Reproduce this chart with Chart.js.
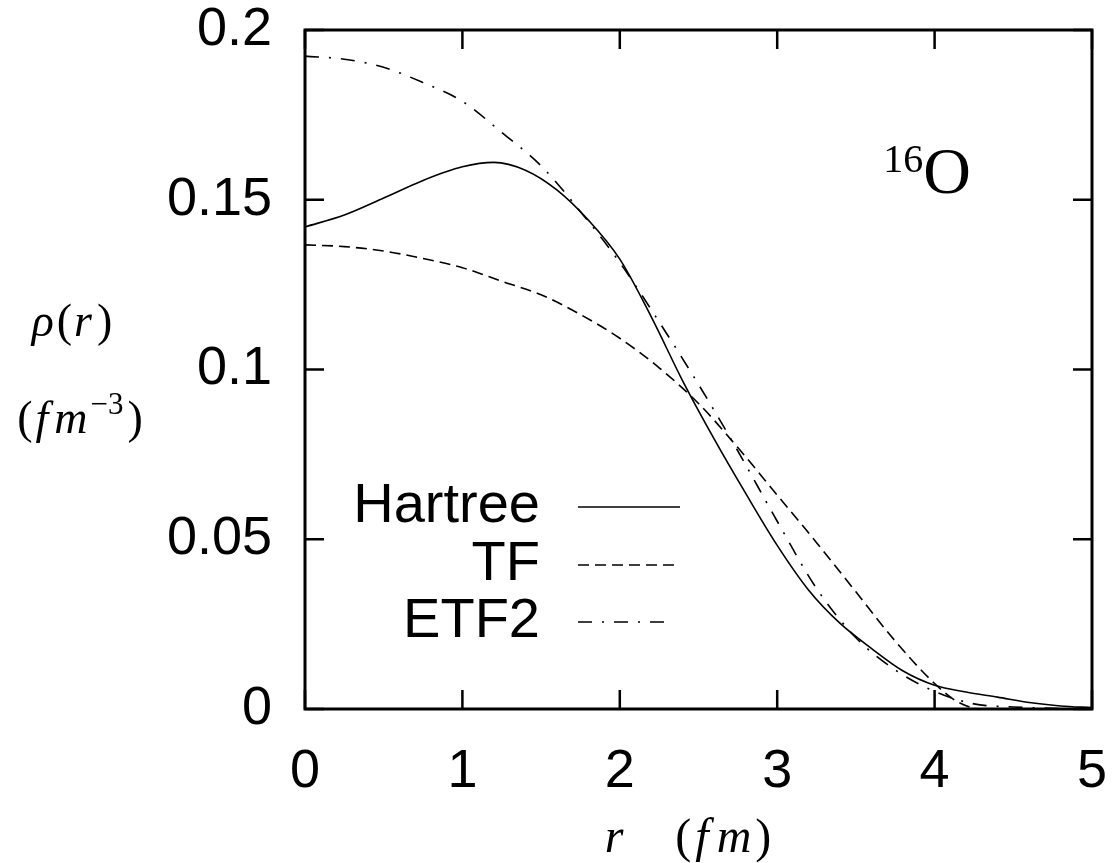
<!DOCTYPE html>
<html>
<head>
<meta charset="utf-8">
<script src="https://cdn.jsdelivr.net/npm/chart.js@4.4.1/dist/chart.umd.min.js"></script>
<style>
  html, body { margin: 0; padding: 0; background: #ffffff; }
  #c { display: block; }
</style>
</head>
<body>
<canvas id="c" width="1114" height="863"></canvas>
<script>
// ---- data ----
const seriesNames = ['Hartree', 'TF', 'ETF2'];

const rHartree = [0, 0.25, 0.5, 0.75, 1.0, 1.2, 1.4, 1.6, 1.8, 2.0, 2.2, 2.4, 2.6, 2.8, 3.0, 3.2, 3.4, 3.6, 3.8, 4.0, 4.2, 4.4, 4.6, 4.8, 5.0];
const rhoHartree = [0.142, 0.1455, 0.1505, 0.1557, 0.1597, 0.161, 0.1587, 0.1529, 0.1440, 0.1325, 0.1155, 0.0966, 0.0795, 0.0635, 0.0482, 0.0350, 0.0252, 0.0178, 0.0112, 0.0070, 0.0050, 0.0035, 0.0019, 0.0009, 0.0004];

const rTF = [0, 0.25, 0.5, 0.75, 1.0, 1.25, 1.5, 1.75, 2.0, 2.25, 2.5, 2.75, 3.0, 3.25, 3.5, 3.75, 4.0, 4.15, 4.3, 4.5, 5.0];
const rhoTF = [0.1367, 0.1362, 0.1349, 0.1327, 0.1300, 0.1260, 0.1220, 0.1162, 0.1092, 0.1005, 0.0900, 0.0770, 0.0630, 0.0490, 0.0345, 0.0200, 0.0075, 0.0020, 0.0, 0.0, 0.0];

const rETF2 = [0, 0.25, 0.5, 0.75, 1.0, 1.25, 1.5, 1.75, 2.0, 2.25, 2.5, 2.75, 3.0, 3.25, 3.5, 3.75, 4.0, 4.25, 4.5, 4.75, 5.0];
const rhoETF2 = [0.1923, 0.1914, 0.1890, 0.1845, 0.1790, 0.1698, 0.1600, 0.1465, 0.1315, 0.1140, 0.0956, 0.0760, 0.0553, 0.0355, 0.0210, 0.0115, 0.0052, 0.0015, 0.0006, 0.0002, 0.0];

const xTickLabels = ['0', '1', '2', '3', '4', '5'];
const yTickLabels = ['0', '0.05', '0.1', '0.15', '0.2'];

// ---- helpers ----
function pts(xs, ys) { return xs.map((x, i) => ({ x: x, y: ys[i] })); }

const SANS = "'Liberation Sans', Arial, Helvetica, sans-serif";
const SERIF = "'Liberation Serif', 'DejaVu Serif', serif";

// inner ticks + frame
const framePlugin = {
  id: 'frame',
  afterDatasetsDraw(chart) {
    const ctx = chart.ctx, a = chart.chartArea;
    const xs = chart.scales.x, ys = chart.scales.y;
    const L = 19;
    ctx.save();
    ctx.strokeStyle = '#000';
    ctx.lineWidth = 2.5;
    ctx.beginPath();
    xs.ticks.forEach(t => {
      const px = xs.getPixelForValue(t.value);
      ctx.moveTo(px, a.bottom); ctx.lineTo(px, a.bottom - L);
      ctx.moveTo(px, a.top); ctx.lineTo(px, a.top + L);
    });
    ys.ticks.forEach(t => {
      const py = ys.getPixelForValue(t.value);
      ctx.moveTo(a.left, py); ctx.lineTo(a.left + L, py);
      ctx.moveTo(a.right, py); ctx.lineTo(a.right - L, py);
    });
    ctx.stroke();
    ctx.lineWidth = 3;
    ctx.strokeRect(a.left, a.top, a.right - a.left, a.bottom - a.top);
    ctx.restore();
  }
};

// legend: right-aligned text, line sample on the right
const keyPlugin = {
  id: 'key',
  afterDatasetsDraw(chart) {
    const ctx = chart.ctx;
    const textRight = 540, x0 = 578, x1 = 680;
    const rows = [507, 565, 622];
    ctx.save();
    chart.data.datasets.forEach((ds, i) => {
      const y = rows[i];
      ctx.fillStyle = '#000';
      ctx.font = '56px ' + SANS;
      ctx.textAlign = 'right';
      ctx.textBaseline = 'middle';
      ctx.fillText(ds.label, textRight, y);
      ctx.strokeStyle = ds.borderColor;
      ctx.lineWidth = ds.borderWidth;
      ctx.setLineDash(ds.borderDash || []);
      ctx.beginPath();
      ctx.moveTo(x0, y);
      ctx.lineTo(i === 2 ? 672 : x1, y);
      ctx.stroke();
    });
    ctx.restore();
  }
};

// axis titles and nucleus label, drawn as math-like text
function drawPieces(ctx, pieces, cx, baseline) {
  let w = 0;
  pieces.forEach(p => { ctx.font = p.f; w += ctx.measureText(p.t).width + (p.gap || 0); });
  let x = cx - w / 2;
  pieces.forEach(p => {
    ctx.font = p.f;
    ctx.fillText(p.t, x, baseline + (p.dy || 0));
    x += ctx.measureText(p.t).width + (p.gap || 0);
  });
}

const textPlugin = {
  id: 'texts',
  afterDraw(chart) {
    const ctx = chart.ctx;
    ctx.save();
    ctx.fillStyle = '#000';
    ctx.textAlign = 'left';
    ctx.textBaseline = 'alphabetic';
    const it = 'italic 46px ' + SERIF, up = '46px ' + SERIF;
    drawPieces(ctx, [{ t: 'ρ', f: it, gap: 3 }, { t: '(', f: up, gap: 2 }, { t: 'r', f: it, gap: 5 }, { t: ')', f: up }], 72, 336);
    drawPieces(ctx, [{ t: '(', f: up, gap: 3 }, { t: 'f', f: it, gap: 6 }, { t: 'm', f: it, gap: 3 }, { t: '−3', f: '31px ' + SERIF, dy: -19, gap: 4 }, { t: ')', f: up }], 80, 433);
    const it2 = 'italic 48px ' + SERIF, up2 = '48px ' + SERIF;
    drawPieces(ctx, [{ t: 'r', f: it2, gap: 52 }, { t: '(', f: up2, gap: 4 }, { t: 'f', f: it2, gap: 8 }, { t: 'm', f: it2, gap: 4 }, { t: ')', f: up2 }], 688, 852);
    drawPieces(ctx, [{ t: '16', f: '40px ' + SERIF, dy: -21 }, { t: 'O', f: '66px ' + SERIF }], 927, 193);
    ctx.restore();
  }
};

const styles = [
  { borderDash: [] },
  { borderDash: [11, 6] },
  { borderDash: [14, 10, 2, 10] }
];

new Chart(document.getElementById('c'), {
  type: 'scatter',
  data: {
    datasets: [
      { label: seriesNames[0], data: pts(rHartree, rhoHartree) },
      { label: seriesNames[1], data: pts(rTF, rhoTF) },
      { label: seriesNames[2], data: pts(rETF2, rhoETF2) }
    ].map((d, i) => Object.assign(d, {
      showLine: true,
      borderColor: '#000',
      backgroundColor: '#000',
      borderWidth: 1.6,
      borderDash: styles[i].borderDash,
      pointRadius: 0,
      pointHoverRadius: 0,
      cubicInterpolationMode: 'monotone',
      fill: false
    }))
  },
  options: {
    responsive: false,
    animation: false,
    events: [],
    layout: { padding: { top: 30, right: 22, bottom: 0, left: 0 } },
    plugins: { legend: { display: false }, tooltip: { enabled: false } },
    scales: {
      x: {
        type: 'linear', min: 0, max: 5,
        border: { display: false },
        grid: { display: false, drawTicks: false },
        ticks: {
          stepSize: 1, padding: 36, color: '#000',
          font: { family: SANS, size: 54, lineHeight: 1 },
          maxRotation: 0,
          callback: (v, i) => xTickLabels[i]
        },
        afterFit: s => { s.height = 154; s.paddingLeft = 0; s.paddingRight = 0; }
      },
      y: {
        type: 'linear', min: 0, max: 0.2,
        border: { display: false },
        grid: { display: false, drawTicks: false },
        ticks: {
          stepSize: 0.05, padding: 33, color: '#000',
          font: { family: SANS, size: 54, lineHeight: 1 },
          callback: (v, i) => yTickLabels[i]
        },
        afterFit: s => { s.width = 305; s.paddingTop = 0; s.paddingBottom = 0; }
      }
    }
  },
  plugins: [framePlugin, keyPlugin, textPlugin]
});
</script>
</body>
</html>
